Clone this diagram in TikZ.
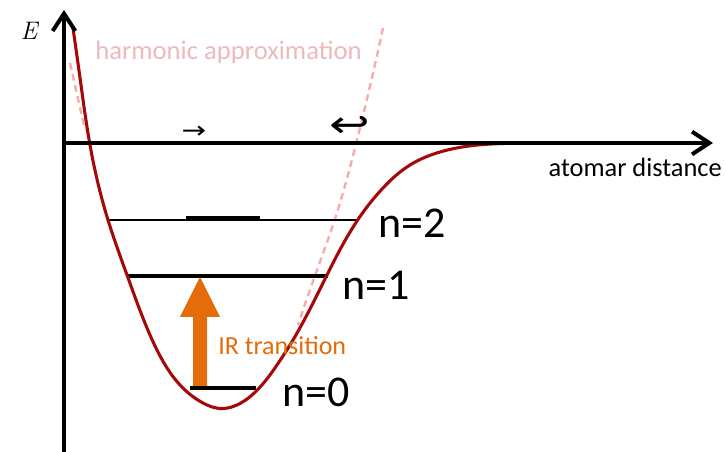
\documentclass[tikz,border=0pt]{standalone}
\usepackage{fontspec}
\setmainfont{Carlito}
\newfontfamily\symfont{DejaVu Sans}
\newfontfamily\lmfont{Latin Modern Roman}
\usetikzlibrary{arrows.meta,hobby}
\definecolor{curvered}{RGB}{165,8,8}
\definecolor{harmpink}{RGB}{245,150,150}
\definecolor{harmtext}{RGB}{236,186,186}
\definecolor{irorange}{RGB}{228,108,10}
\tikzset{
  axisline/.style={line width=3pt,-{Straight Barb[length=13pt,width=17pt,line width=3pt]}},
  potential/.style={draw=curvered,line width=2.3pt,line cap=round},
  harmdash/.style={draw=harmpink,opacity=0.8,line width=1.8pt,dash pattern=on 5pt off 3.5pt},
  levelthin/.style={line width=2.2pt},
  levelthick/.style={line width=3pt},
  nlabel/.style={anchor=west,inner sep=0pt,font=\fontsize{33}{36}\selectfont},
  txt/.style={inner sep=0pt},
}
\begin{document}
\begin{tikzpicture}[x=0.75pt,y=-0.75pt]
\useasboundingbox (0,0) rectangle (726,452);
% axes
\coordinate (ybot) at (64,452);
\coordinate (ytop) at (64,10);
\coordinate (xleft) at (62,143);
\coordinate (xright) at (713,143);
% harmonic approximation (dashed)
\draw[harmdash,use Hobby shortcut] (383,28) .. (357,140) .. (333,225) .. (317,270) .. (298,325);
\draw[harmdash] (70,63) -- (85,130);
% energy levels
\coordinate (l2a) at (108,220); \coordinate (l2b) at (357,220);
\coordinate (l2c) at (186,218.5); \coordinate (l2d) at (260,218.5);
\coordinate (l1a) at (128,276); \coordinate (l1b) at (328,276);
\coordinate (l0a) at (190,388); \coordinate (l0b) at (256,388);
\draw[levelthin] (l2a) -- (l2b);
\draw[levelthick] (l2c) -- (l2d);
\draw[levelthick] (l1a) -- (l1b);
\draw[line width=2.4pt] (l0a) -- (l0b);
% potential curve
\draw[potential,use Hobby shortcut] (73,28) .. (81,85) .. (90,145) .. (108,220) .. (127,275) .. (141,313) .. (157,350) .. (180,385) .. (203,403) .. (220,408.5) .. (237,405) .. (252,395) .. (277,365) .. (293,340) .. (327,275) .. (357,221) .. (383,188) .. (410,165) .. (440,152) .. (473,145.5) .. (510,143.3) .. (570,143);
% axes on top
\draw[axisline] (ybot) -- (ytop);
\draw[axisline] (xleft) -- (xright);
% IR arrow
\fill[irorange] (193,386) -- (207,386) -- (207,317) -- (220,317) -- (200,277) -- (180,317) -- (193,317) -- cycle;
% labels
\node[txt,font=\lmfont\itshape\fontsize{19}{21}\selectfont] (E) at (29,31) {E};
\node[txt,anchor=base west,text=harmtext,font=\fontsize{20}{22}\selectfont] (harm) at (95,60) {harmonic approximation};
\node[txt,anchor=base east,font=\fontsize{19.8}{22}\selectfont] (dist) at (722,177) {atomar distance};
\node[txt,anchor=base west,text=irorange,font=\fontsize{19.5}{22}\selectfont] (ir) at (218,355) {IR transition};
\node[nlabel] (n2) at (378,223) {n=2};
\node[nlabel] (n1) at (342,285) {n=1};
\node[nlabel] (n0) at (282,392) {n=0};
\node[txt,font=\symfont\fontsize{22}{24}\selectfont] (ar1) at (194,132) {\scalebox{1}[0.8]{→}};
\node[txt,font=\symfont\fontsize{28}{30}\selectfont] (ar2) at (350,127) {\scalebox{1.3}[1]{↩}};
\end{tikzpicture}
\end{document}
